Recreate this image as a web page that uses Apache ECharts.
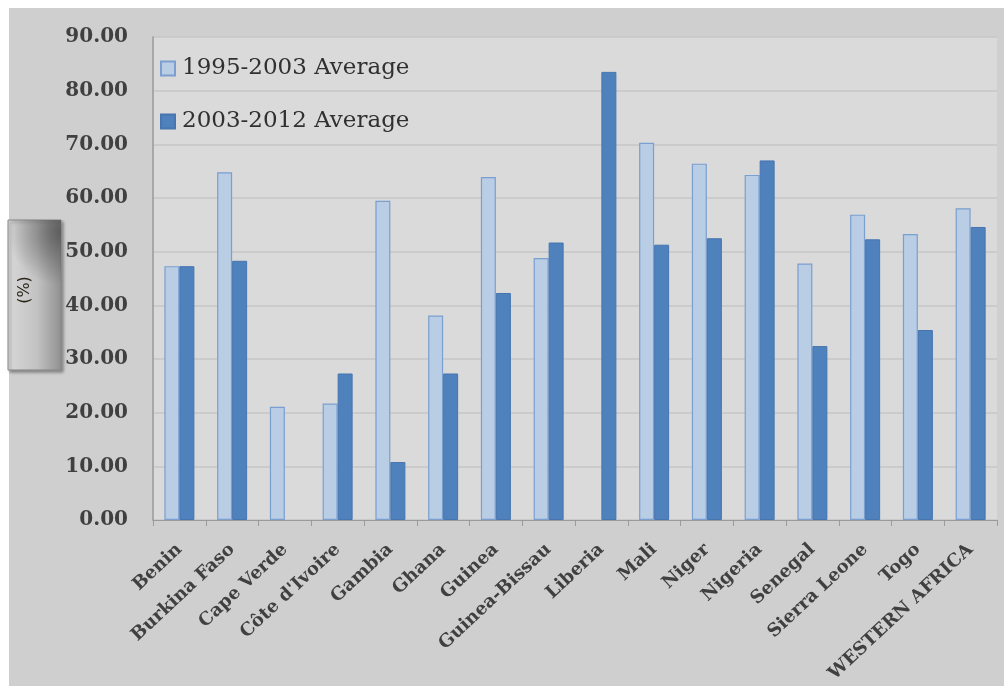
<!DOCTYPE html>
<html><head><meta charset="utf-8">
<script src="https://cdn.jsdelivr.net/npm/echarts@6/dist/echarts.min.js"></script>
<style>html,body{margin:0;padding:0;background:#fff}#c{width:1004px;height:686px}</style>
</head><body><div id="c"></div>
<script>
const categories = ['Benin','Burkina Faso','Cape Verde',"Côte d'Ivoire",'Gambia','Ghana','Guinea','Guinea-Bissau','Liberia','Mali','Niger','Nigeria','Senegal','Sierra Leone','Togo','WESTERN AFRICA'];
const avg1995_2003 = [47.3, 64.8, 21.1, 21.7, 59.5, 38.1, 63.9, 48.8, null, 70.3, 66.4, 64.3, 47.8, 56.9, 53.3, 58.1];
const avg2003_2012 = [47.3, 48.3, null, 27.3, 10.8, 27.3, 42.3, 51.7, 83.5, 51.3, 52.5, 67.0, 32.4, 52.3, 35.4, 54.6];
const seriesNames = ['1995-2003 Average', '2003-2012 Average'];
const yTicks = {min: 0, max: 90, interval: 10};

const chart = echarts.init(document.getElementById('c'), null, {renderer: 'canvas'});
const serif = 'DejaVu Serif';
chart.setOption({
  backgroundColor: '#ffffff',
  animation: false,
  graphic: [
    {type: 'rect', z: -10, shape: {x: 9, y: 8, width: 995, height: 678}, style: {fill: '#cfcfcf'}},
    {type: 'rect', z: 10, shape: {x: 8, y: 220, width: 53, height: 150},
      style: {
        fill: new echarts.graphic.LinearGradient(0, 0, 1, 0, [
          {offset: 0, color: '#d8d8d8'}, {offset: 0.55, color: '#c2c2c2'}, {offset: 1, color: '#909090'}
        ]),
        stroke: '#8a8a8a', lineWidth: 1,
        shadowColor: 'rgba(0,0,0,0.35)', shadowBlur: 3, shadowOffsetX: 2, shadowOffsetY: 2
      }},
    {type: 'rect', z: 11, shape: {x: 8, y: 220, width: 53, height: 150},
      style: {
        fill: new echarts.graphic.RadialGradient(1, 0.08, 1.0, [
          {offset: 0, color: 'rgba(80,80,80,0.8)'}, {offset: 1, color: 'rgba(80,80,80,0)'}
        ])
      }},
    {type: 'text', z: 12, x: 25, y: 290, rotation: Math.PI / 2,
      style: {text: '(%)', fill: '#2a2418', font: '16px "DejaVu Sans"', align: 'center', verticalAlign: 'middle'}}
  ],
  grid: {left: 153, right: 7, top: 37, bottom: 166, show: true, backgroundColor: '#dadada', borderWidth: 0, containLabel: false},
  legend: {
    orient: 'vertical', left: 155, top: 52, itemWidth: 14, itemHeight: 14, itemGap: 30,
    icon: 'rect',
    textStyle: {fontFamily: serif, fontSize: 23, color: '#303030', padding: [0, 0, 0, 2]},
    data: seriesNames
  },
  xAxis: {
    type: 'category', data: categories, boundaryGap: true,
    axisLine: {show: true, lineStyle: {color: '#9a9a9a', width: 1}},
    axisTick: {show: true, length: 6, alignWithLabel: false, lineStyle: {color: '#9a9a9a'}},
    axisLabel: {interval: 0, rotate: 43, margin: 27, fontFamily: serif, fontWeight: 'bold', fontSize: 18, color: '#404040'}
  },
  yAxis: {
    type: 'value', min: yTicks.min, max: yTicks.max, interval: yTicks.interval,
    axisLine: {show: true, lineStyle: {color: '#9a9a9a', width: 1.5}},
    axisTick: {show: false},
    splitLine: {show: true, lineStyle: {color: '#c6c6c6', width: 1.5}},
    axisLabel: {margin: 25, formatter: v => v.toFixed(2), fontFamily: serif, fontWeight: 'bold', fontSize: 20, color: '#404040'}
  },
  series: [
    {name: seriesNames[0], type: 'bar', data: avg1995_2003, barWidth: 15, barGap: '0%',
      itemStyle: {color: '#b9cde5', borderColor: '#7a9fd0', borderWidth: 1.2}},
    {name: seriesNames[1], type: 'bar', data: avg2003_2012, barWidth: 15, barGap: '0%',
      itemStyle: {color: '#4f81bd', borderColor: '#4675b0', borderWidth: 1}}
  ]
});
</script></body></html>
